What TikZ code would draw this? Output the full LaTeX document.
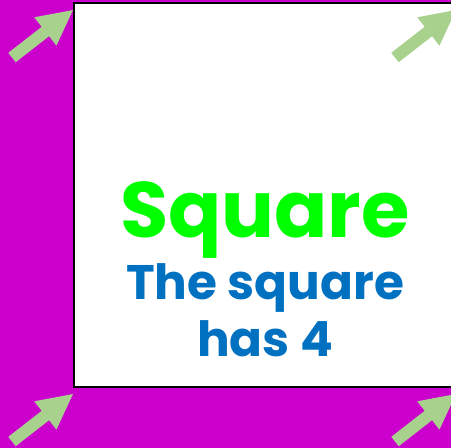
\documentclass[tikz,border=0pt]{standalone}
\usepackage{fontspec}
\setmainfont{Poppins}
\definecolor{bgmag}{HTML}{CC00CC}
\definecolor{arrgreen}{HTML}{A9D18E}
\definecolor{titlegreen}{HTML}{00FF00}
\definecolor{textblue}{HTML}{0070C0}
\tikzset{
  cornerarrow/.style={fill=arrgreen, draw=none},
  titletext/.style={anchor=base, text=titlegreen, font=\bfseries\fontsize{78.5}{78.5}\selectfont, inner sep=0pt},
  bodytext/.style={anchor=base, text=textblue, font=\bfseries\fontsize{48.5}{48.5}\selectfont, inner sep=0pt}
}
\begin{document}
\begin{tikzpicture}[x=1pt,y=-1pt]
\useasboundingbox (0,0) rectangle (451,448);
\clip (0,0) rectangle (451,448);
\fill[bgmag] (0,0) rectangle (451,448);
\draw[line width=2.7pt, fill=white] (74,3) rectangle (458,387);
\foreach \dx/\dy in {0/0, 383/0, 0/384, 383/384}{
  \begin{scope}[shift={(\dx,\dy)}]
    \fill[cornerarrow] (8.3,52.8) -- (41.7,26.8) -- (34.3,17.3) -- (73,10) -- (56.4,45.7) -- (49.1,36.2) -- (15.7,62.2) -- cycle;
  \end{scope}
}
\node[titletext] (title) at (265,237) {Square};
\node[bodytext] (line1) at (265,299) {The square};
\node[bodytext] (line2) at (265,356) {has 4};
\end{tikzpicture}
\end{document}
